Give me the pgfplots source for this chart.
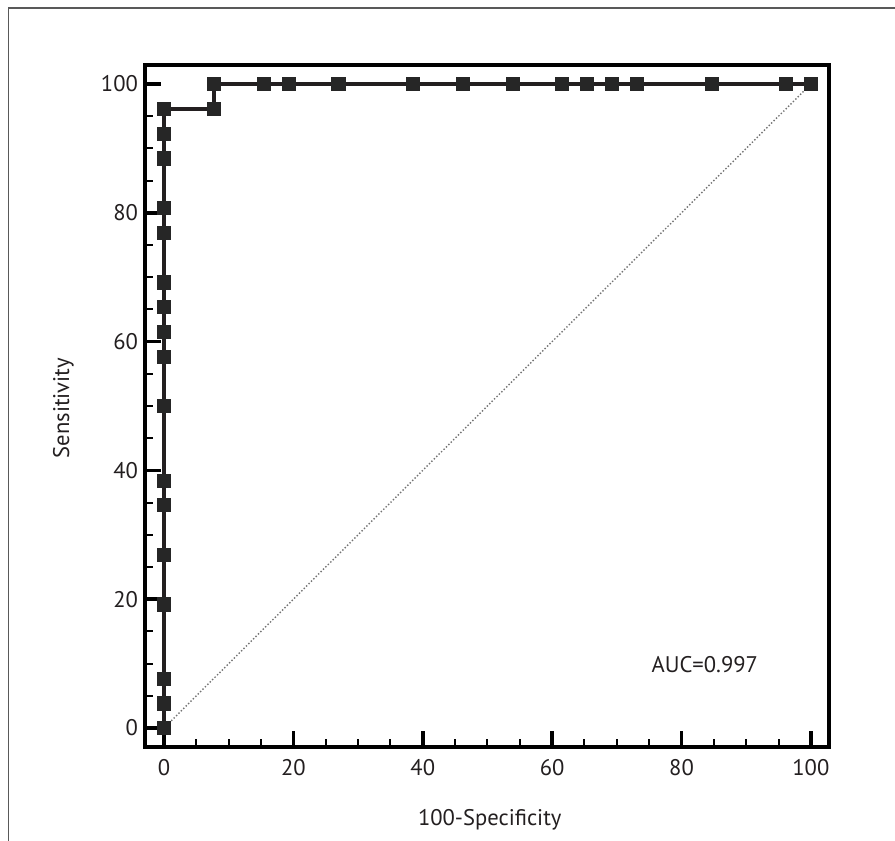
\documentclass[border=0pt]{standalone}
\usepackage{fontspec}
\setmainfont{PT Sans}
\usepackage{pgfplots}
\pgfplotsset{compat=1.18}
\definecolor{ink}{HTML}{231F20}
\definecolor{markfill}{HTML}{262626}
\begin{document}
\begin{tikzpicture}
\useasboundingbox (0,0) rectangle (447.5pt,420.5pt);
\draw[line width=0.9pt, black!65] (4.25pt,0) -- (4.25pt,416.5pt) -- (447.5pt,416.5pt);
\begin{axis}[
  at={(72.5pt,47pt)}, anchor=south west,
  scale only axis, width=342pt, height=341pt,
  xmin=-2.94, xmax=102.8, ymin=-2.95, ymax=102.95,
  xtick={0,20,...,100}, ytick={0,20,...,100},
  minor tick num=3,
  tick align=inside, xtick pos=bottom, ytick pos=left,
  major tick length=8pt, minor tick length=4pt,
  major tick style={line width=1.8pt, black},
  minor tick style={line width=1pt, black},
  axis line style={line width=2pt, black},
  font=\fontsize{11.3}{13}\selectfont,
  ticklabel style={text=ink},
  x tick label style={yshift=-2.8pt},
  /pgf/number format/assume math mode=true,
  xlabel={100-Specificity}, ylabel={Sensitivity},
  every axis x label/.style={at={(axis description cs:0.504,-0.1144)}, anchor=base, text=ink},
  every axis y label/.style={at={(axis description cs:-0.111,0.497)}, rotate=90, anchor=base, text=ink},
  clip=false,
]
\addplot[black!55, densely dotted, line width=0.7pt] coordinates {(0,0) (100,100)};
\addplot[line width=1.9pt, color=ink, mark=square*, mark size=3.3pt,
  mark options={fill=markfill, draw=markfill, line width=0.2pt}] coordinates {
(0,0) (0,3.846) (0,7.692) (0,19.231) (0,26.923) (0,34.615) (0,38.462)
(0,50) (0,57.692) (0,61.538) (0,65.385) (0,69.231) (0,76.923) (0,80.769)
(0,88.462) (0,92.308) (0,96.154) (7.692,96.154) (7.692,100)
(15.385,100) (19.231,100) (26.923,100) (38.462,100) (46.154,100)
(53.846,100) (61.538,100) (65.385,100) (69.231,100) (73.077,100)
(84.615,100) (96.154,100) (100,100)};
\node[text=ink] at (axis cs:83.6,9.8) {AUC=0.997};
\end{axis}
\end{tikzpicture}
\end{document}
